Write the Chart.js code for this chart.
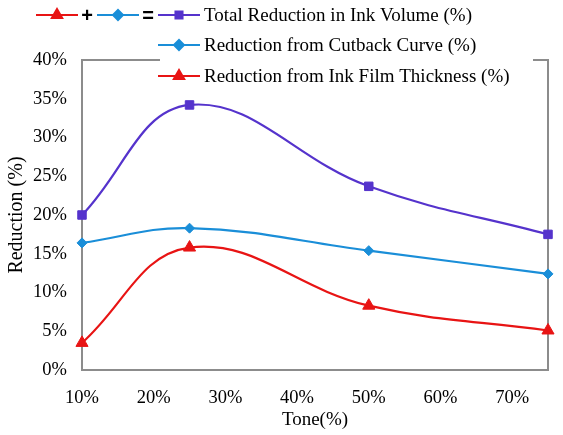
<!DOCTYPE html>
<html>
<head>
<meta charset="utf-8">
<script src="https://cdn.jsdelivr.net/npm/chart.js@4/dist/chart.umd.min.js"></script>
<style>
  html, body { margin: 0; padding: 0; background: #fff; }
  #wrap { width: 563px; height: 435px; }
</style>
</head>
<body>
<div id="wrap"><canvas id="myChart" width="563" height="435"></canvas></div>
<script>
var tone = [10, 25, 50, 75];
var totalReduction = [20.0, 34.2, 23.7, 17.5];
var cutbackReduction = [16.4, 18.3, 15.4, 12.4];
var filmReduction = [3.5, 15.8, 8.3, 5.1];
var xTicks = [10, 20, 30, 40, 50, 60, 70];

var RED = '#E81414', BLUE = '#1A8ED8', PURPLE = '#5533CC', FRAME = '#8C8C8C';
var FONT = '"Liberation Serif", "DejaVu Serif", serif';

function pts(ys) {
    return tone.map(function (t, i) { return { x: t, y: ys[i] }; });
}

function sym(ctx, x, y, color, style, r) {
    ctx.save();
    ctx.strokeStyle = color;
    ctx.lineWidth = 2;
    ctx.beginPath();
    ctx.moveTo(x - 21, y);
    ctx.lineTo(x + 21, y);
    ctx.stroke();
    ctx.fillStyle = color;
    Chart.helpers.drawPoint(ctx, { pointStyle: style, radius: r, borderWidth: 1 }, x, y);
    ctx.restore();
}

// frame + hand drawn legend
var legendPlugin = {
    id: 'inkLegend',
    beforeDatasetsDraw: function (chart) {
        var a = chart.chartArea, ctx = chart.ctx;
        ctx.save();
        ctx.strokeStyle = FRAME;
        ctx.lineWidth = 2;
        ctx.strokeRect(a.left, a.top, a.right - a.left, a.bottom - a.top);
        ctx.restore();
    },
    afterDraw: function (chart) {
        var ctx = chart.ctx;
        ctx.save();
        ctx.fillStyle = '#fff';
        ctx.fillRect(160, 0, 373, 88);
        ctx.textBaseline = 'middle';
        // row 1: red + blue = purple
        sym(ctx, 57, 15, RED, 'triangle', 6);
        ctx.fillStyle = '#000';
        ctx.font = 'bold 20px "Liberation Sans", sans-serif';
        ctx.textAlign = 'center';
        ctx.fillText('+', 87, 16);
        sym(ctx, 118, 15, BLUE, 'rectRot', 5);
        ctx.fillStyle = '#000';
        ctx.fillText('=', 148, 16);
        sym(ctx, 179, 15, PURPLE, 'rect', 5);
        sym(ctx, 179, 45, BLUE, 'rectRot', 5);
        sym(ctx, 179, 76, RED, 'triangle', 6);
        ctx.fillStyle = '#000';
        ctx.textAlign = 'left';
        ctx.font = '19px ' + FONT;
        ctx.fillText('Total Reduction in Ink Volume (%)', 204, 16);
        ctx.fillText('Reduction from Cutback Curve (%)', 204, 46);
        ctx.fillText('Reduction from Ink Film Thickness (%)', 204, 77);
        ctx.restore();
    }
};

var ctx = document.getElementById('myChart').getContext('2d');
var chart = new Chart(ctx, {
    type: 'line',
    data: {
        datasets: [{
            label: 'Total Reduction in Ink Volume (%)',
            data: pts(totalReduction),
            borderColor: PURPLE,
            backgroundColor: PURPLE,
            pointStyle: 'rect',
            pointRadius: 6
        }, {
            label: 'Reduction from Cutback Curve (%)',
            data: pts(cutbackReduction),
            borderColor: BLUE,
            backgroundColor: BLUE,
            pointStyle: 'rectRot',
            pointRadius: 5
        }, {
            label: 'Reduction from Ink Film Thickness (%)',
            data: pts(filmReduction),
            borderColor: RED,
            backgroundColor: RED,
            pointStyle: 'triangle',
            pointRadius: 7
        }]
    },
    options: {
        responsive: false,
        animation: false,
        clip: false,
        layout: { padding: { top: 60, right: 15, left: 0, bottom: 0 } },
        elements: { line: { borderWidth: 2.2, tension: 0.4 }, point: { borderWidth: 1 } },
        plugins: {
            legend: { display: false },
            tooltip: { enabled: false }
        },
        scales: {
            x: {
                type: 'linear',
                min: 10,
                max: 75,
                afterBuildTicks: function (s) { s.ticks = xTicks.map(function (v) { return { value: v }; }); },
                afterFit: function (s) { s.height = 65; },
                grid: { display: false },
                border: { display: false },
                ticks: {
                    color: '#000',
                    padding: 9,
                    maxRotation: 0,
                    font: { family: FONT, size: 18.5 },
                    callback: function (v) { return v + '%'; }
                },
                title: {
                    display: true,
                    text: 'Tone(%)',
                    color: '#000',
                    padding: { top: 0 },
                    font: { family: FONT, size: 19 }
                }
            },
            y: {
                min: 0,
                max: 40,
                afterFit: function (s) { s.width = 82; },
                grid: { display: false },
                border: { display: false },
                ticks: {
                    stepSize: 5,
                    color: '#000',
                    padding: 7,
                    font: { family: FONT, size: 18.5 },
                    callback: function (v) { return v + '%'; }
                },
                title: {
                    display: true,
                    text: 'Reduction (%)',
                    color: '#000',
                    padding: { top: 5, bottom: 0 },
                    font: { family: FONT, size: 20 }
                }
            }
        }
    },
    plugins: [legendPlugin]
});
</script>
</body>
</html>
